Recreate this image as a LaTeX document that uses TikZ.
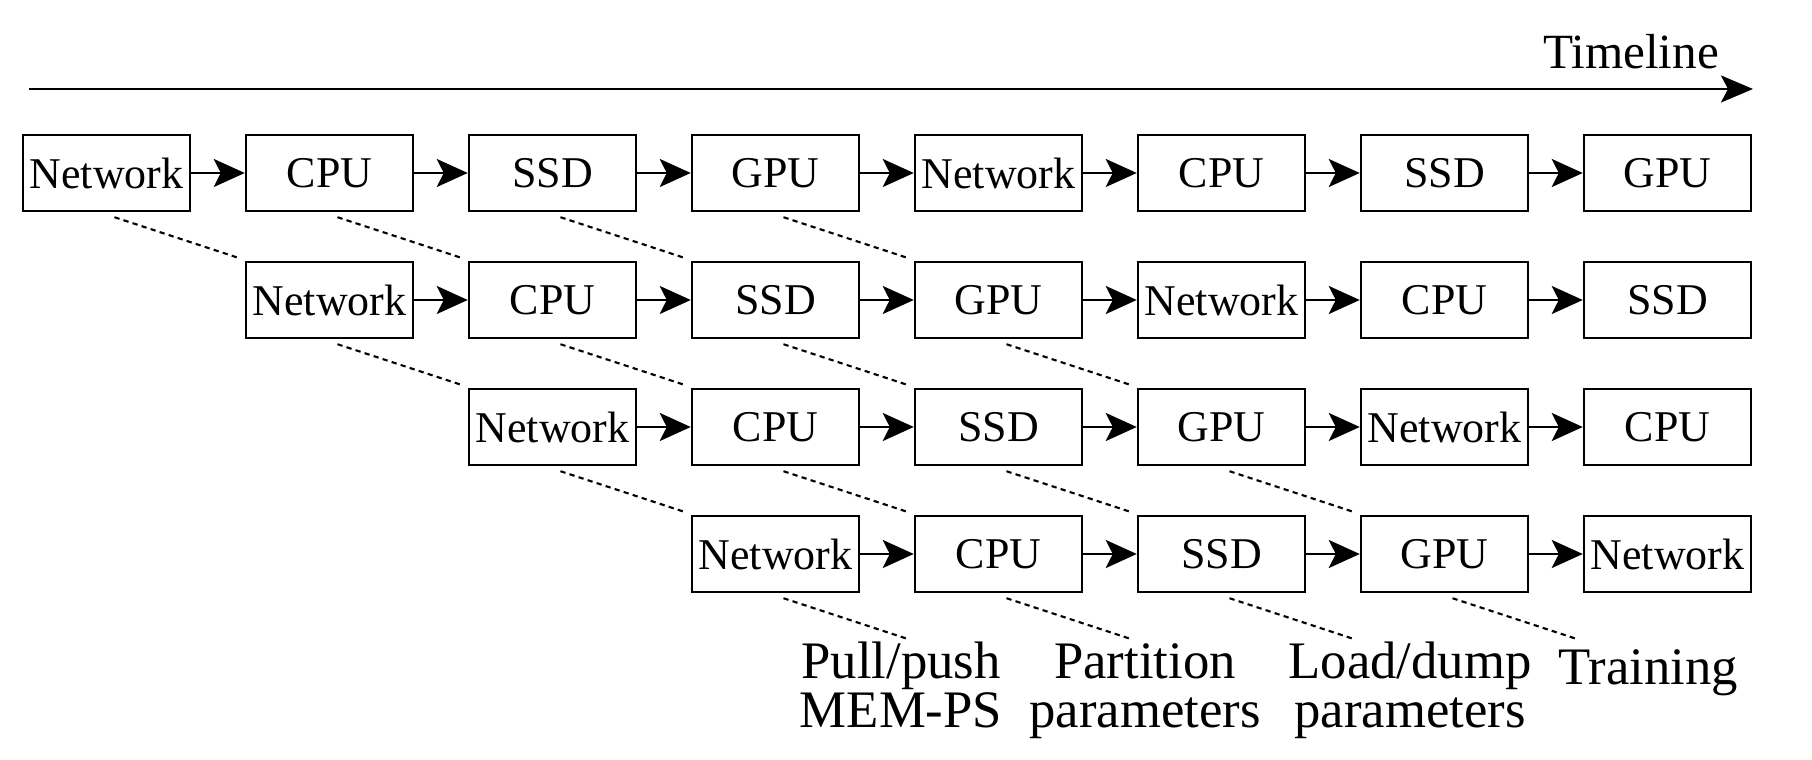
\documentclass[tikz,border=0pt]{standalone}
\usepackage{fontspec}
\setmainfont{Liberation Serif}
\usetikzlibrary{arrows.meta}

\begin{document}
\begin{tikzpicture}[
  box/.style={draw, line width=0.7pt, minimum width=1.67cm, minimum height=0.76cm,
    inner sep=1pt, font=\fontsize{12.5}{15}\selectfont},
  flow/.style={line width=0.7pt, -{Stealth[length=3.1mm,width=2.8mm,inset=0.7mm]}},
  link/.style={line width=0.6pt, dash pattern=on 1.5pt off 1.2pt},
  lbl/.style={align=center, anchor=base, inner sep=0pt, font=\fontsize{15}{14.2}\selectfont}
]
  \useasboundingbox (0,0) rectangle (18.12,-7.60);

  % timeline
  \coordinate (T0) at (0.29,-0.89);
  \coordinate (T1) at (17.53,-0.89);
  \draw[line width=0.7pt, -{Stealth[length=3.2mm,width=2.7mm,inset=0.7mm]}] (T0) -- (T1);
  \node[anchor=base, inner sep=0pt, font=\fontsize{14}{16}\selectfont] (TL) at (16.31,-0.69) {Timeline};

  % row 1
  \node[box] (a0) at (1.065,-1.73) {Network};
  \node[box] (a1) at (3.295,-1.73) {CPU};
  \node[box] (a2) at (5.525,-1.73) {SSD};
  \node[box] (a3) at (7.755,-1.73) {GPU};
  \node[box] (a4) at (9.985,-1.73) {Network};
  \node[box] (a5) at (12.215,-1.73) {CPU};
  \node[box] (a6) at (14.445,-1.73) {SSD};
  \node[box] (a7) at (16.675,-1.73) {GPU};

  % row 2
  \node[box] (b1) at (3.295,-3.00) {Network};
  \node[box] (b2) at (5.525,-3.00) {CPU};
  \node[box] (b3) at (7.755,-3.00) {SSD};
  \node[box] (b4) at (9.985,-3.00) {GPU};
  \node[box] (b5) at (12.215,-3.00) {Network};
  \node[box] (b6) at (14.445,-3.00) {CPU};
  \node[box] (b7) at (16.675,-3.00) {SSD};

  % row 3
  \node[box] (c2) at (5.525,-4.27) {Network};
  \node[box] (c3) at (7.755,-4.27) {CPU};
  \node[box] (c4) at (9.985,-4.27) {SSD};
  \node[box] (c5) at (12.215,-4.27) {GPU};
  \node[box] (c6) at (14.445,-4.27) {Network};
  \node[box] (c7) at (16.675,-4.27) {CPU};

  % row 4
  \node[box] (d3) at (7.755,-5.54) {Network};
  \node[box] (d4) at (9.985,-5.54) {CPU};
  \node[box] (d5) at (12.215,-5.54) {SSD};
  \node[box] (d6) at (14.445,-5.54) {GPU};
  \node[box] (d7) at (16.675,-5.54) {Network};

  \draw[flow] (a0) -- (a1);
  \draw[flow] (a1) -- (a2);
  \draw[flow] (a2) -- (a3);
  \draw[flow] (a3) -- (a4);
  \draw[flow] (a4) -- (a5);
  \draw[flow] (a5) -- (a6);
  \draw[flow] (a6) -- (a7);

  \draw[flow] (b1) -- (b2);
  \draw[flow] (b2) -- (b3);
  \draw[flow] (b3) -- (b4);
  \draw[flow] (b4) -- (b5);
  \draw[flow] (b5) -- (b6);
  \draw[flow] (b6) -- (b7);

  \draw[flow] (c2) -- (c3);
  \draw[flow] (c3) -- (c4);
  \draw[flow] (c4) -- (c5);
  \draw[flow] (c5) -- (c6);
  \draw[flow] (c6) -- (c7);

  \draw[flow] (d3) -- (d4);
  \draw[flow] (d4) -- (d5);
  \draw[flow] (d5) -- (d6);
  \draw[flow] (d6) -- (d7);

  % stage labels (base = last line)
  \node[lbl] (L1) at (9.01,-7.28) {Pull/push\\MEM-PS};
  \node[lbl] (L2) at (11.45,-7.28) {Partition\\parameters};
  \node[lbl] (L3) at (14.10,-7.28) {Load/dump\\parameters};
  \node[lbl] (L4) at (16.48,-6.85) {Training};

  % dashed links
  \draw[link] ([shift={(0.08,-0.05)}]a0.south) -- ++(1.25,-0.41);
  \draw[link] ([shift={(0.08,-0.05)}]a1.south) -- ++(1.25,-0.41);
  \draw[link] ([shift={(0.08,-0.05)}]a2.south) -- ++(1.25,-0.41);
  \draw[link] ([shift={(0.08,-0.05)}]a3.south) -- ++(1.25,-0.41);
  \draw[link] ([shift={(0.08,-0.05)}]b1.south) -- ++(1.25,-0.41);
  \draw[link] ([shift={(0.08,-0.05)}]b2.south) -- ++(1.25,-0.41);
  \draw[link] ([shift={(0.08,-0.05)}]b3.south) -- ++(1.25,-0.41);
  \draw[link] ([shift={(0.08,-0.05)}]b4.south) -- ++(1.25,-0.41);
  \draw[link] ([shift={(0.08,-0.05)}]c2.south) -- ++(1.25,-0.41);
  \draw[link] ([shift={(0.08,-0.05)}]c3.south) -- ++(1.25,-0.41);
  \draw[link] ([shift={(0.08,-0.05)}]c4.south) -- ++(1.25,-0.41);
  \draw[link] ([shift={(0.08,-0.05)}]c5.south) -- ++(1.25,-0.41);
  \draw[link] ([shift={(0.08,-0.05)}]d3.south) -- ++(1.25,-0.41);
  \draw[link] ([shift={(0.08,-0.05)}]d4.south) -- ++(1.25,-0.41);
  \draw[link] ([shift={(0.08,-0.05)}]d5.south) -- ++(1.25,-0.41);
  \draw[link] ([shift={(0.08,-0.05)}]d6.south) -- ++(1.25,-0.41);
\end{tikzpicture}
\end{document}
